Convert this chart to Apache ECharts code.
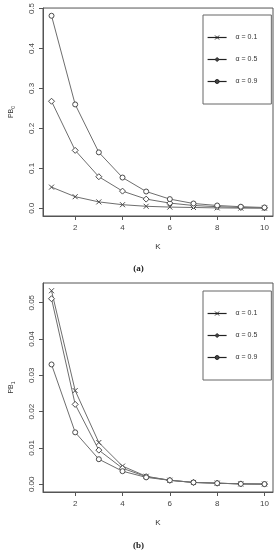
<!DOCTYPE html>
<html><head><meta charset="utf-8">
<script src="https://cdn.jsdelivr.net/npm/echarts@6/dist/echarts.min.js"></script>
<style>html,body{margin:0;padding:0;background:#fff}#c{width:277px;height:550px}</style>
</head><body><div id="c"></div>
<script>
const K = [1,2,3,4,5,6,7,8,9,10];
const seriesNames = ['α = 0.1','α = 0.5','α = 0.9'];
// panel (a): PB0
const a01 = [0.053,0.029,0.016,0.009,0.005,0.003,0.002,0.001,0.0005,0.0003];
const a05 = [0.268,0.145,0.079,0.043,0.023,0.013,0.007,0.004,0.002,0.001];
const a09 = [0.482,0.260,0.140,0.077,0.042,0.023,0.012,0.007,0.004,0.002];
// panel (b): PB1
const b01 = [0.0533,0.0258,0.0115,0.0050,0.0022,0.0011,0.0005,0.0003,0.0001,0.00005];
const b05 = [0.0511,0.0220,0.0094,0.0044,0.0021,0.0011,0.0005,0.0003,0.0001,0.00005];
const b09 = [0.0330,0.0143,0.0069,0.0036,0.0019,0.0011,0.0005,0.0003,0.0001,0.00005];
const xTicks = [2,4,6,8,10];
const yTicksA = [0,0.1,0.2,0.3,0.4,0.5];
const yTicksB = [0,0.01,0.02,0.03,0.04,0.05];

const FONT = 'Liberation Sans';
const lineCol = '#6e6e6e';
const markCol = '#4a4a4a';
const symbols = ['path://M0,0L10,10M10,0L0,10', 'diamond', 'circle'];

function mk(vals, i, gi){
  return {
    type:'line', name: seriesNames[i], xAxisIndex: gi, yAxisIndex: gi,
    data: K.map((k,j)=>[k, vals[j]]),
    symbol: symbols[i], symbolSize: i===1?6:5, showSymbol:true,
    lineStyle:{color:lineCol, width:1},
    itemStyle:{color:'#fff', borderColor:markCol, borderWidth:1},
    animation:false, z: 3
  };
}
function xAx(gi){
  return {type:'value', gridIndex:gi, min:0.64, max:10.36,
    name:'K', nameLocation:'middle', nameGap:27,
    nameTextStyle:{fontFamily:FONT, fontSize:8, color:'#333'},
    axisLine:{show:true, onZero:false, lineStyle:{color:'#555', width:1}},
    axisTick:{show:true, length:4, lineStyle:{color:'#555'}, customValues:xTicks},
    axisLabel:{fontFamily:FONT, fontSize:8, color:'#444', margin:8, customValues:xTicks},
    splitLine:{show:false}};
}
function yAx(gi, min, max, ticks, dec, sub){
  return {type:'value', gridIndex:gi, min:min, max:max,
    name:'{a|PB}{b|'+sub+'}', nameLocation:'middle', nameGap:27, nameRotate:90,
    nameTextStyle:{rich:{a:{fontFamily:FONT,fontSize:7,color:'#333'},b:{fontFamily:FONT,fontSize:5,color:'#333',verticalAlign:'bottom',padding:[4,0,0,0]}}},
    axisLine:{show:true, onZero:false, lineStyle:{color:'#555', width:1}},
    axisTick:{show:true, length:4, lineStyle:{color:'#555'}, customValues:ticks},
    axisLabel:{fontFamily:FONT, fontSize:8, color:'#444', rotate:90, margin:7,
      customValues:ticks, formatter:v=>v.toFixed(dec)},
    splitLine:{show:false}};
}
function leg(top){
  return {orient:'vertical', left:203, top:top, data:seriesNames,
    padding:[18,14,18,4], itemGap:13, itemWidth:19, itemHeight:5,
    borderColor:'#666', borderWidth:1, backgroundColor:'#fff',
    textStyle:{fontFamily:FONT, fontSize:7, color:'#333', padding:[0,0,0,4], lineHeight:9},
    lineStyle:{color:'#222', width:1.2},
    itemStyle:{color:'#444', borderColor:'#222', borderWidth:1},
    selectedMode:false};
}
const chart = echarts.init(document.getElementById('c'), null, {renderer:'canvas'});
chart.setOption({
  animation:false,
  backgroundColor:'#fff',
  title:[
    {text:'(a)', left:'center', top:259, textStyle:{fontFamily:'Liberation Serif', fontWeight:'bold', fontSize:9, color:'#222'}},
    {text:'(b)', left:'center', top:536, textStyle:{fontFamily:'Liberation Serif', fontWeight:'bold', fontSize:9, color:'#222'}}
  ],
  grid:[
    {left:38, right:4, top:7, height:209, show:true, borderColor:'#555', borderWidth:1, backgroundColor:'transparent'},
    {left:38, right:4, top:283, height:209, show:true, borderColor:'#555', borderWidth:1, backgroundColor:'transparent'}
  ],
  xAxis:[xAx(0), xAx(1)],
  yAxis:[yAx(0,-0.0193,0.5013,yTicksA,1,'0'), yAx(1,-0.00213,0.05543,yTicksB,2,'1')],
  legend:[leg(15), leg(291)],
  series:[mk(a01,0,0), mk(a05,1,0), mk(a09,2,0), mk(b01,0,1), mk(b05,1,1), mk(b09,2,1)]
});
</script></body></html>
